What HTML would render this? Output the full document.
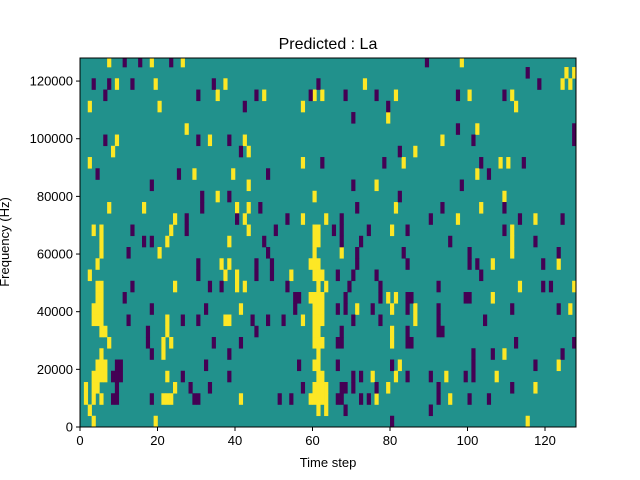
<!DOCTYPE html>
<html><head><meta charset="utf-8"><style>
html,body{margin:0;padding:0;background:#fff;}
svg{display:block;font-family:"Liberation Sans","DejaVu Sans",sans-serif;}
</style></head><body>
<svg id="chart" width="640" height="480" viewBox="0 0 640 480">
<rect x="0" y="0" width="640" height="480" fill="#fff"/>
<text x="328" y="49" font-size="16" text-anchor="middle">Predicted : La</text>
<g id="plot"></g>
<g id="axes"></g>
<text x="328" y="467" font-size="13" text-anchor="middle">Time step</text>
<text x="0" y="0" font-size="13" text-anchor="middle" transform="translate(9,242) rotate(-90)">Frequency (Hz)</text>
</svg>
<script>
const numSteps = 128;
const maxFreq = 128000;
const binHz = 3902;
const xTicks = [0,20,40,60,80,100,120];
const yTicks = [0,20000,40000,60000,80000,100000,120000];
const yTickLabels = ["0","20000","40000","60000","80000","100000","120000"];
// rows listed from bottom (row index), cols are time steps
const yellowCells = {
 32:[7,18,26,98],31:[125,127],30:[9,19,37,73,124,126],29:[35,47,60,62,81,100,111],
 28:[2,20,57,112],27:[79],26:[27,102],25:[9,33,42,93],24:[8,43,86],23:[2,57,83,108,110],
 22:[29,39,102],21:[43,76],20:[35,60,109],19:[7,16,40,43,81,103],18:[24,42,57,63,97,117],
 17:[3,5,23,43,60,61,80,111],16:[5,22,38,60,61,111],15:[5,20,60,67,111],
 14:[4,36,38,59,60,61,106,123],13:[2,37,40,54,60,61,62],12:[4,5,24,40,42,61,63,113,127],
 11:[4,5,59,60,61,62,79,81,106],10:[3,4,5,41,60,61,62,71,80,86,126],
 9:[3,4,5,22,37,38,57,60,61,62,86],8:[5,6,22,60,61,80],7:[7,21,23,60,61,62,80],
 6:[5,21,61,109],5:[4,5,6,60,61,82,123],4:[3,4,5,6,22,61,62,75,81,94,107],
 3:[1,3,4,24,60,61,62,63,79,117],2:[1,3,5,21,22,23,41,59,60,61,62,63,76,95],
 1:[2,61,63],0:[3,19,115]
};
const purpleCells = {
 32:[11,15,23,89],31:[115],30:[3,7,13,34,61,118],29:[6,30,45,59,68,76,97,109],
 28:[42,79],27:[70],26:[97,127],25:[6,30,38,101,127],24:[41,82],23:[62,78,103,114],
 22:[4,25,48,105],21:[18,70,98],20:[31,38,82],19:[31,46,71,93,109],18:[27,40,53,67,90,113,124],
 17:[13,27,50,65,67,74,84,109],16:[16,18,47,67,72,95,117],15:[12,48,71,83,100,123],
 14:[30,45,49,71,84,100,102,119],13:[30,45,49,66,70,76,103],12:[13,33,36,53,69,77,92,119,121],
 11:[11,55,56,68,77,84,85,99,100],10:[18,32,55,66,68,75,84,92,111,123],
 9:[12,26,30,44,48,52,70,77,92,104],8:[17,45,67,84,92,93],7:[17,34,41,66,67,84,85,112,127],
 6:[18,38,101,106,124],5:[9,10,32,56,66,80,101,117],4:[8,9,10,26,38,70,72,84,90,99,101],
 3:[9,28,33,57,67,68,70,76,92,111],2:[8,9,18,29,30,51,54,66,67,72,74,92,100,105],
 1:[68,90],0:[80]
};
const NS="http://www.w3.org/2000/svg";
const X0=80,X1=576,Y0=427,Y1=58;
function xs(v){return X0+(v/numSteps)*(X1-X0);}
function ys(v){return Y0-(v/maxFreq)*(Y0-Y1);}
const plot=document.getElementById('plot');
const axes=document.getElementById('axes');
function mk(tag,attrs,parent){const e=document.createElementNS(NS,tag);for(const k in attrs)e.setAttribute(k,attrs[k]);parent.appendChild(e);return e;}
const bg=mk('rect',{x:X0,y:Y1,width:X1-X0,height:Y0-Y1,fill:'#21918c'},plot);


function drawCells(cells,color,name){
  for(const r in cells){
    const row=+r;
    const top=Math.max(ys((row+1)*binHz),Y1);
    const bot=ys(row*binHz);
    cells[r].forEach(c=>{
      const e=mk('rect',{x:xs(c),y:top,width:xs(c+1)-xs(c)+0.3,height:bot-top+0.3,fill:color},plot);
      
      
    });
  }
}
drawCells(yellowCells,'#fde725','heatmap-cell-high');
drawCells(purpleCells,'#440154','heatmap-cell-low');
const frame=mk('rect',{x:X0,y:Y1,width:X1-X0,height:Y0-Y1,fill:'none',stroke:'#000','stroke-width':1},axes);


xTicks.forEach(t=>{
  const x=xs(t);
  const l=mk('line',{x1:x,y1:Y0,x2:x,y2:Y0+4,stroke:'#000'},axes);
  
  
  const tx=mk('text',{x:x,y:Y0+18,'font-size':13,'text-anchor':'middle'},axes);
  tx.textContent=String(t);
  
  
});
yTicks.forEach((t,i)=>{
  const y=ys(t);
  const l=mk('line',{x1:X0-4,y1:y,x2:X0,y2:y,stroke:'#000'},axes);
  
  
  const tx=mk('text',{x:X0-7,y:y+4.5,'font-size':13,'text-anchor':'end'},axes);
  tx.textContent=yTickLabels[i];
  
  
});
</script>
</body></html>
